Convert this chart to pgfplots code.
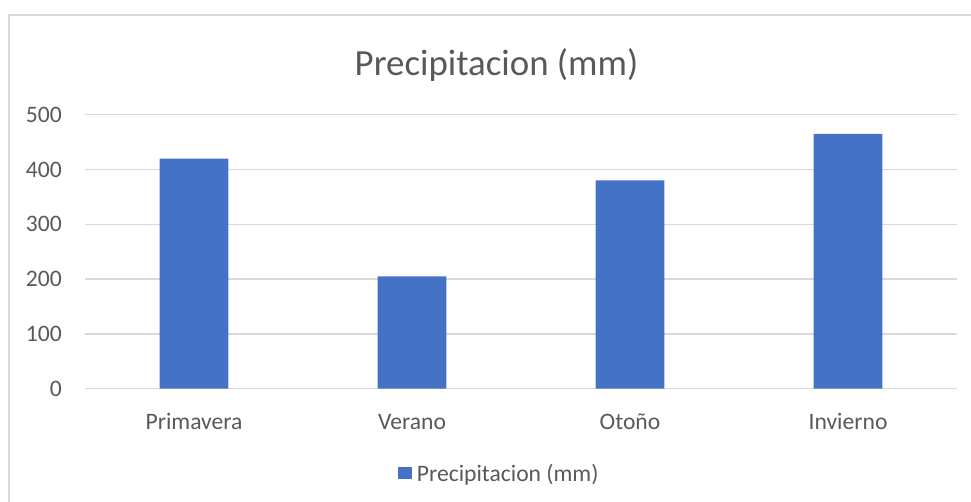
\documentclass[border=0pt]{standalone}
\usepackage{pgfplots}
\pgfplotsset{compat=1.18}
\usepackage{fontspec}
\setmainfont{Carlito}
\definecolor{barblue}{HTML}{4472C4}
\definecolor{gridgray}{HTML}{D9D9D9}
\definecolor{textgray}{HTML}{595959}
\begin{document}
\begin{tikzpicture}
\useasboundingbox (0bp,0bp) rectangle (971bp,502bp);
% chart frame
\draw[gridgray, line width=1.5bp] (9bp,-10bp) rectangle (990bp,487bp);
% chart title
\node[textgray, font=\fontsize{37}{44}\selectfont] at (496.5bp,437bp) {Precipitacion (mm)};
\begin{axis}[
  at={(85bp,113.3bp)}, anchor=south west,
  width=872bp, height=274bp, scale only axis,
  ybar, bar width=68.7bp,
  xmin=-0.5, xmax=3.5, ymin=0, ymax=500,
  xtick={0,1,2,3},
  xticklabels={Primavera,Verano,Otoño,Invierno},
  ytick={0,100,200,300,400,500},
  ymajorgrids,
  grid style={gridgray, line width=1.3bp},
  axis line style={draw=none},
  major tick length=0pt,
  tick label style={textgray, font=\fontsize{23.7}{28}\selectfont},
  /pgf/number format/assume math mode=true,
  yticklabel style={anchor=east, inner sep=0pt, xshift=-23bp},
  xticklabel style={anchor=base, inner sep=0pt, yshift=-41bp},
  legend style={at={(0.477,-0.311)}, anchor=center, draw=none, fill=none,
    font=\fontsize{23.7}{28}\selectfont, text=textgray,
    nodes={inner xsep=5bp, inner ysep=2bp}},
  legend image code/.code={\fill[barblue] (0bp,-5.5bp) rectangle (13.5bp,7bp);},
]
\addplot[fill=barblue, draw=none] coordinates {(0,420) (1,205) (2,380) (3,465)};
\addlegendentry{Precipitacion (mm)}
\end{axis}
\end{tikzpicture}
\end{document}
